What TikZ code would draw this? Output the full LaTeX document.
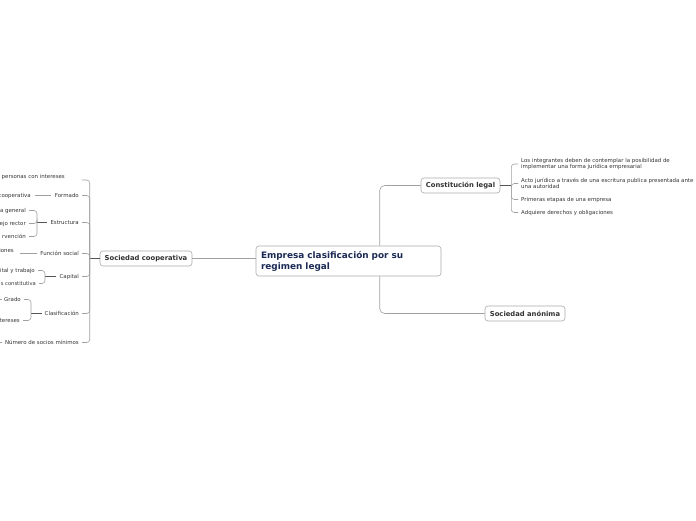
\documentclass[tikz,border=0pt]{standalone}
\usepackage{fontspec}
\setmainfont{DejaVu Sans}
\definecolor{boxgray}{HTML}{ABABAB}
\definecolor{linegray}{HTML}{A0A0A0}
\definecolor{darkline}{HTML}{555555}
\definecolor{textdark}{HTML}{333333}
\definecolor{navy}{HTML}{1B2A55}
\begin{document}
\begin{tikzpicture}[x=1pt,y=-1pt,
  box/.style={draw=boxgray, rounded corners=3pt, line width=0.6pt, fill=white, inner sep=0pt,
    font=\bfseries\fontsize{6.8}{8}\selectfont, text=textdark},
  leaf/.style={inner xsep=1pt, inner ysep=0.5pt, font=\fontsize{5.45}{6.7}\selectfont, text=textdark, align=left},
  conn/.style={draw=linegray, line width=0.6pt},
  thickc/.style={draw=darkline, line width=1.4pt},
  br/.style={conn, rounded corners=3pt}]
\useasboundingbox (0,0) rectangle (696,520);

% main boxes
\node[box, minimum width=185pt, minimum height=30pt, text width=175pt, align=left,
  font=\bfseries\fontsize{8.9}{11}\selectfont, text=navy] (central) at (348.5,261)
  {Empresa clasificación por su\\regimen legal};
\node[box, minimum width=92pt, minimum height=15pt] (coop) at (146,258.5) {Sociedad cooperativa};
\node[box, minimum width=79pt, minimum height=15pt] (const) at (460.5,185.5) {Constitución legal};
\node[box, minimum width=80pt, minimum height=15pt] (anon) at (525,313.5) {Sociedad anónima};

% central connectors
\draw[conn] (coop.east) -- (coop.east -| central.west);
\draw[conn, rounded corners=5pt] ([xshift=124pt]central.north west) |- (const.west);
\draw[conn, rounded corners=5pt] ([xshift=124pt]central.south west) |- (anon.west);

% Sociedad cooperativa children
\draw[thickc] (coop.west) -- ++(-10,0) coordinate (cb);
\node[leaf, anchor=east] (p1) at (66,176.5) {personas con intereses};
\node[leaf, anchor=east] (formado) at (80,195.5) {Formado};
\node[leaf, anchor=east] (estr) at (80,222.5) {Estructura};
\node[leaf, anchor=east] (fsoc) at (80,253.5) {Función social};
\node[leaf, anchor=east] (cap) at (80,276.5) {Capital};
\node[leaf, anchor=east] (clas) at (80,313.5) {Clasificación};
\node[leaf, anchor=east] (num) at (80,342.5) {Número de socios mínimos};
\coordinate (p1c) at (82,180);
\draw[br] (cb) |- (p1c);
\foreach \n in {formado,estr,fsoc,cap,clas,num}{
  \draw[br] (cb) |- ([xshift=2pt]\n.east);
}

% Formado
\node[leaf, anchor=east] (f1) at (32,195.5) {cooperativa};
\draw[conn] ([xshift=-3pt]formado.west) -- ([xshift=3pt]f1.east);

% Estructura
\coordinate (eb) at (37,222.5);
\draw[conn, draw=darkline] ([xshift=-2pt]estr.west) -- (eb);
\node[leaf, anchor=east] (e1) at (27,210.5) {a general};
\node[leaf, anchor=east] (e2) at (27,223.5) {ejo rector};
\node[leaf, anchor=east] (e3) at (27,236.5) {rvención};
\foreach \n in {e1,e2,e3}{
  \draw[br] (eb) |- ([xshift=2pt]\n.east);
}

% Funcion social
\node[leaf, anchor=east] (fi) at (15,250.5) {iones};
\coordinate (fic) at (20,253.5);
\draw[conn] ([xshift=-2pt]fsoc.west) -- (fic);

% Capital
\coordinate (capb) at (45,276.5);
\draw[conn, draw=darkline] ([xshift=-2pt]cap.west) -- (capb);
\node[leaf, anchor=east] (c1) at (36,270.5) {ital y trabajo};
\node[leaf, anchor=east, font=\fontsize{5.2}{6.5}\selectfont] (c2) at (37,283.5) {s constitutiva};
\foreach \n in {c1,c2}{
  \draw[br] (capb) |- ([xshift=2pt]\n.east);
}

% Clasificacion
\coordinate (clb) at (31,313.5);
\draw[conn, draw=darkline] ([xshift=-2pt]clas.west) -- (clb);
\node[leaf, anchor=east] (g1) at (22,299.5) {Grado};
\node[leaf, anchor=east] (g2) at (21,320.5) {tereses};
\foreach \n in {g1,g2}{
  \draw[br] (clb) |- ([xshift=2pt]\n.east);
}
\coordinate (gl) at (-1,299.5);
\draw[conn] ([xshift=-1.5pt]g1.west) -- (gl);
\coordinate (nl) at (-1,342.5);
\draw[conn] ([xshift=-1.5pt]num.west) -- (nl);

% Constitucion legal children
\draw[thickc] (const.east) -- ++(11,0) coordinate (kb);
\node[leaf, anchor=west] (k1) at (520,164) {Los integrantes deben de contemplar la posibilidad de\\implementar una forma jurídica empresarial};
\node[leaf, anchor=west] (k2) at (520,183.5) {Acto jurídico a través de una escritura publica presentada ante\\una autoridad};
\node[leaf, anchor=west] (k3) at (520,199.5) {Primeras etapas de una empresa};
\node[leaf, anchor=west] (k4) at (520,212.5) {Adquiere derechos y obligaciones};
\foreach \n in {k1,k2,k3,k4}{
  \draw[br] (kb) |- ([xshift=-2pt]\n.west);
}
\end{tikzpicture}
\end{document}
